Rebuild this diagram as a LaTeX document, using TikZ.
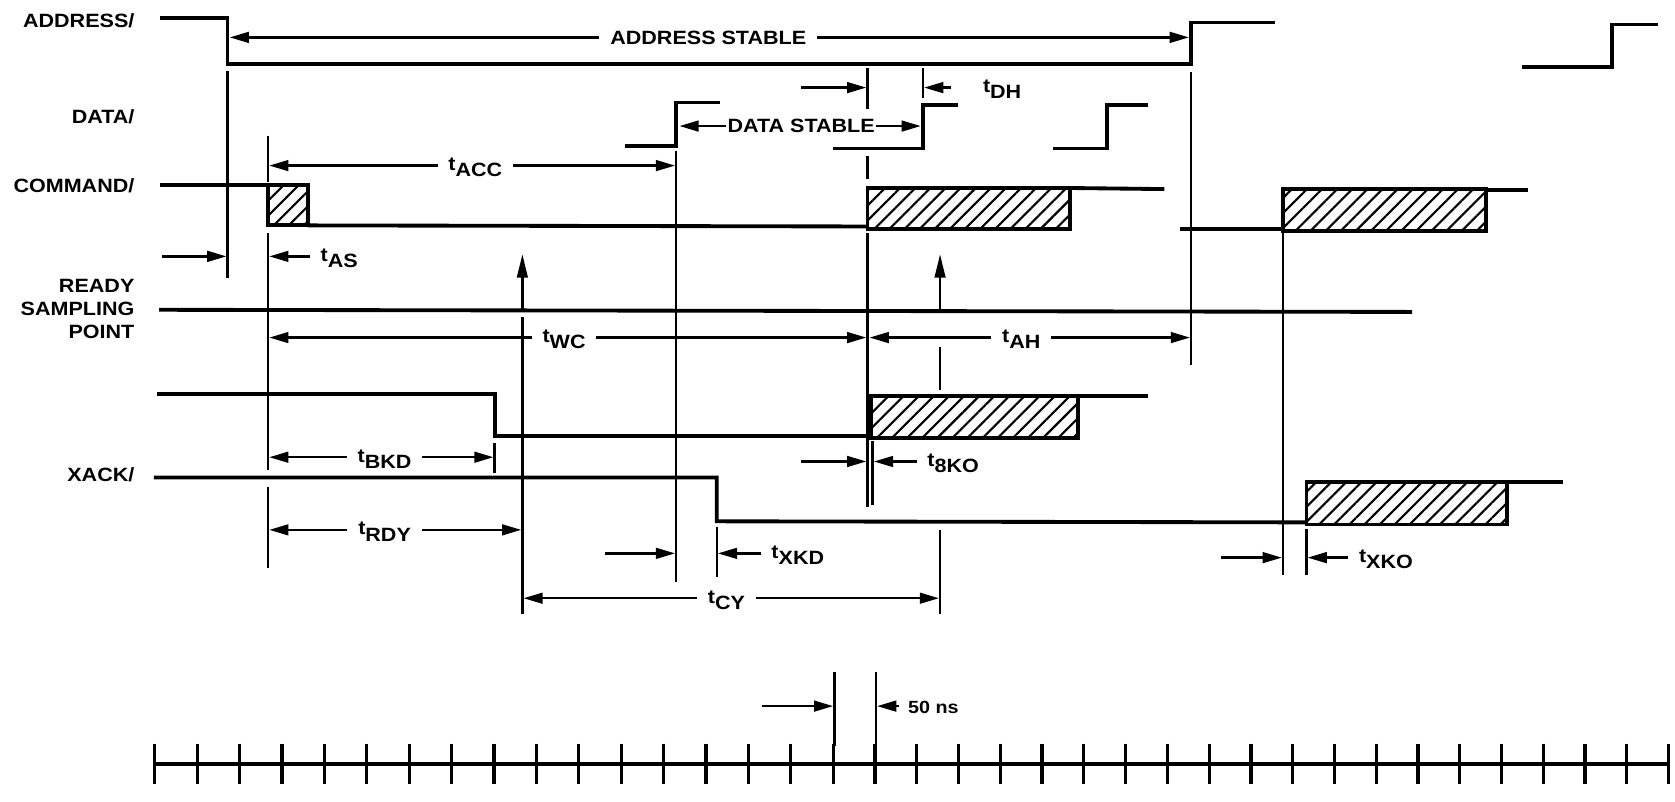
\documentclass[tikz,border=0pt]{standalone}
\usepackage{fontspec}
\setmainfont[FakeStretch=1.12]{Liberation Sans}
\usetikzlibrary{arrows.meta,patterns.meta}
\newcommand\lblf{\fontsize{18}{21.5}\selectfont\bfseries}
\newcommand\nsf{\fontsize{16.5}{16.5}\selectfont\bfseries}
\newcommand\tsub[1]{t\raisebox{-6pt}{#1}}
\begin{document}
\begin{tikzpicture}[x=1pt,y=-1pt,
  sig/.style={line width=3.6pt},
  vl/.style={line width=2.4pt},
  dim/.style={line width=2.3pt,-{Triangle[length=18pt,width=10pt]}},
  uparr/.style={line width=2.4pt,-{Triangle[length=22pt,width=10pt]}},
  lbl/.style={font=\lblf, inner sep=0pt},
  tl/.style={font=\lblf, inner ysep=0pt, inner xsep=10pt},
  hbox/.style={draw, line width=3.6pt, pattern={Lines[angle=45,distance=10pt,line width=2pt]}},
  ]
\useasboundingbox (0,0) rectangle (1568,750);

% signal names
\node[lbl,anchor=east] (laddr) at (126,19) {ADDRESS/};
\node[lbl,anchor=east] (ldata) at (126,109) {DATA/};
\node[lbl,anchor=east] (lcmd) at (126,174) {COMMAND/};
\node[lbl,anchor=east,align=right] (lrdy) at (126,289) {READY\\SAMPLING\\POINT};
\node[lbl,anchor=east] (lxack) at (126,444) {XACK/};

% ADDRESS
\draw[sig] (150,17) -- (213,17) -- (213,60) -- (1115,60) -- (1115,21) -- (1194,21);
\draw[sig] (1425,63) -- (1509,63) -- (1509,23) -- (1552,23);
% DATA
\draw[sig] (585,137) -- (633,137) -- (633,96) -- (674,96);
\draw[sig] (780,139) -- (864,139) -- (864,98) -- (897,98);
\draw[sig] (986,139) -- (1036,139) -- (1036,98) -- (1075,98);
% COMMAND
\draw[sig] (150,173) -- (251,173);
\draw[hbox] (251,173) rectangle (288,211);
\draw[sig] (288,211) -- (812,212);
\draw[hbox] (812,176) rectangle (1002,214);
\draw[sig] (1002,176) -- (1090,177);
\draw[sig] (1105,214) -- (1201,214);
\draw[hbox] (1201,177) rectangle (1391,216);
\draw[sig] (1391,178) -- (1430,178);
% READY sampling line
\draw[sig] (149,290) -- (1322,292);
% unnamed line
\draw[sig] (147,369) -- (463,369) -- (463,408) -- (815,408);
\draw[hbox] (815,371) rectangle (1009,410);
\draw[sig] (1009,371) -- (1075,371);
% XACK
\draw[sig] (144,447) -- (671,447) -- (671,488) -- (1223,489);
\draw[hbox] (1223,451) rectangle (1411,491);
\draw[sig] (1411,451) -- (1463,451);

% vertical reference lines
\draw[vl] (213,66) -- (213,260);
\draw[vl] (251,127) -- (251,170);
\draw[vl] (251,218) -- (251,440);
\draw[vl] (251,456) -- (251,532);
\draw[uparr] (489,290) -- (489,238);
\draw[vl] (489,297) -- (489,575);
\draw[vl] (633,141) -- (633,545);
\draw[vl] (671,493) -- (671,540);
\draw[vl] (463,415) -- (463,443);
\draw[vl] (812,64) -- (812,102);
\draw[vl] (812,146) -- (812,168);
\draw[vl] (812,218) -- (812,475);
\draw[vl] (817,413) -- (817,473);
\draw[vl] (864,64) -- (864,92);
\draw[uparr] (880,291) -- (880,238);
\draw[vl] (880,325) -- (880,365);
\draw[vl] (880,496) -- (880,575);
\draw[vl] (1115,67) -- (1115,342);
\draw[vl] (1201,218) -- (1201,538);
\draw[vl] (1223,495) -- (1223,538);
\draw[vl] (781,629) -- (781,698);
\draw[vl] (820,629) -- (820,698);

% ADDRESS STABLE
\coordinate (as1) at (215,35); \coordinate (as2) at (1113,35);
\node[tl] (astab) at (663,35) {ADDRESS STABLE};
\draw[dim] (astab.west |- as1) -- (as1);
\draw[dim] (astab.east |- as2) -- (as2);
% DATA STABLE
\coordinate (ds1) at (636,118); \coordinate (ds2) at (862,118);
\node[tl,inner xsep=1pt] (dstab) at (750,118) {DATA STABLE};
\draw[dim] (dstab.west |- ds1) -- (ds1);
\draw[dim] (dstab.east |- ds2) -- (ds2);
% tDH
\coordinate (dh1) at (750,82); \coordinate (dh2) at (811,82); \coordinate (dh3) at (865,82);
\draw[dim] (dh1) -- (dh2);
\node[tl,anchor=mid west,inner xsep=30pt] (tdh) at (890,84) {\tsub{DH}};
\draw[dim] (tdh.west |- dh3) -- (dh3);
% tACC
\coordinate (acc1) at (252,155); \coordinate (acc2) at (632,155);
\node[tl,anchor=mid] (tacc) at (445,157) {\tsub{ACC}};
\draw[dim] (tacc.west |- acc1) -- (acc1);
\draw[dim] (tacc.east |- acc2) -- (acc2);
% tAS
\coordinate (tas0) at (152,240); \coordinate (tas1) at (212,240); \coordinate (tas2) at (252,240);
\draw[dim] (tas0) -- (tas1);
\node[tl,anchor=mid west,inner xsep=10pt] (tas) at (290,242) {\tsub{AS}};
\draw[dim] (tas.west |- tas2) -- (tas2);
% tWC and tAH
\coordinate (wc1) at (252,316); \coordinate (wc2) at (811,316);
\node[tl,anchor=mid] (twc) at (528,318) {\tsub{WC}};
\draw[dim] (twc.west |- wc1) -- (wc1);
\draw[dim] (twc.east |- wc2) -- (wc2);
\coordinate (ah1) at (814,316); \coordinate (ah2) at (1114,316);
\node[tl,anchor=mid] (tah) at (956,318) {\tsub{AH}};
\draw[dim] (tah.west |- ah1) -- (ah1);
\draw[dim] (tah.east |- ah2) -- (ah2);
% tBKD
\coordinate (bkd1) at (252,428); \coordinate (bkd2) at (462,428);
\node[tl,anchor=mid] (tbkd) at (360,430) {\tsub{BKD}};
\draw[dim] (tbkd.west |- bkd1) -- (bkd1);
\draw[dim] (tbkd.east |- bkd2) -- (bkd2);
% tBKO
\coordinate (bko0) at (750,432); \coordinate (bko1) at (811,432); \coordinate (bko2) at (818,432);
\draw[dim] (bko0) -- (bko1);
\node[tl,anchor=mid west,inner xsep=10pt] (tbko) at (858,434) {\tsub{8KO}};
\draw[dim] (tbko.west |- bko2) -- (bko2);
% tRDY
\coordinate (rdy1) at (252,496); \coordinate (rdy2) at (488,496);
\node[tl,anchor=mid] (trdy) at (360,498) {\tsub{RDY}};
\draw[dim] (trdy.west |- rdy1) -- (rdy1);
\draw[dim] (trdy.east |- rdy2) -- (rdy2);
% tXKD
\coordinate (xkd0) at (566,518); \coordinate (xkd1) at (632,518); \coordinate (xkd2) at (672,518);
\draw[dim] (xkd0) -- (xkd1);
\node[tl,anchor=mid west,inner xsep=10pt] (txkd) at (712,520) {\tsub{XKD}};
\draw[dim] (txkd.west |- xkd2) -- (xkd2);
% tCY
\coordinate (cy1) at (490,560); \coordinate (cy2) at (879,560);
\node[tl,anchor=mid] (tcy) at (680,562) {\tsub{CY}};
\draw[dim] (tcy.west |- cy1) -- (cy1);
\draw[dim] (tcy.east |- cy2) -- (cy2);
% tXKO
\coordinate (xko0) at (1143,522); \coordinate (xko1) at (1200,522); \coordinate (xko2) at (1224,522);
\draw[dim] (xko0) -- (xko1);
\node[tl,anchor=mid west,inner xsep=10pt] (txko) at (1262,524) {\tsub{XKO}};
\draw[dim] (txko.west |- xko2) -- (xko2);
% 50 ns
\coordinate (ns0) at (713,661); \coordinate (ns1) at (780,661); \coordinate (ns2) at (821,661);
\draw[dim] (ns0) -- (ns1);
\node[font=\nsf,inner ysep=0pt,inner xsep=8pt,anchor=west] (ns) at (842,662) {50 ns};
\draw[dim] (ns.west |- ns2) -- (ns2);

% time scale
\draw[line width=4pt] (145,715) -- (1562,715);
\foreach \i in {0,...,16} {\draw[line width=3pt] ({145+\i*39.69},696) -- ({145+\i*39.69},734);}
\foreach \i in {1,...,20} {\draw[line width=3pt] ({780+\i*39.1},696) -- ({780+\i*39.1},734);}
\end{tikzpicture}
\end{document}
